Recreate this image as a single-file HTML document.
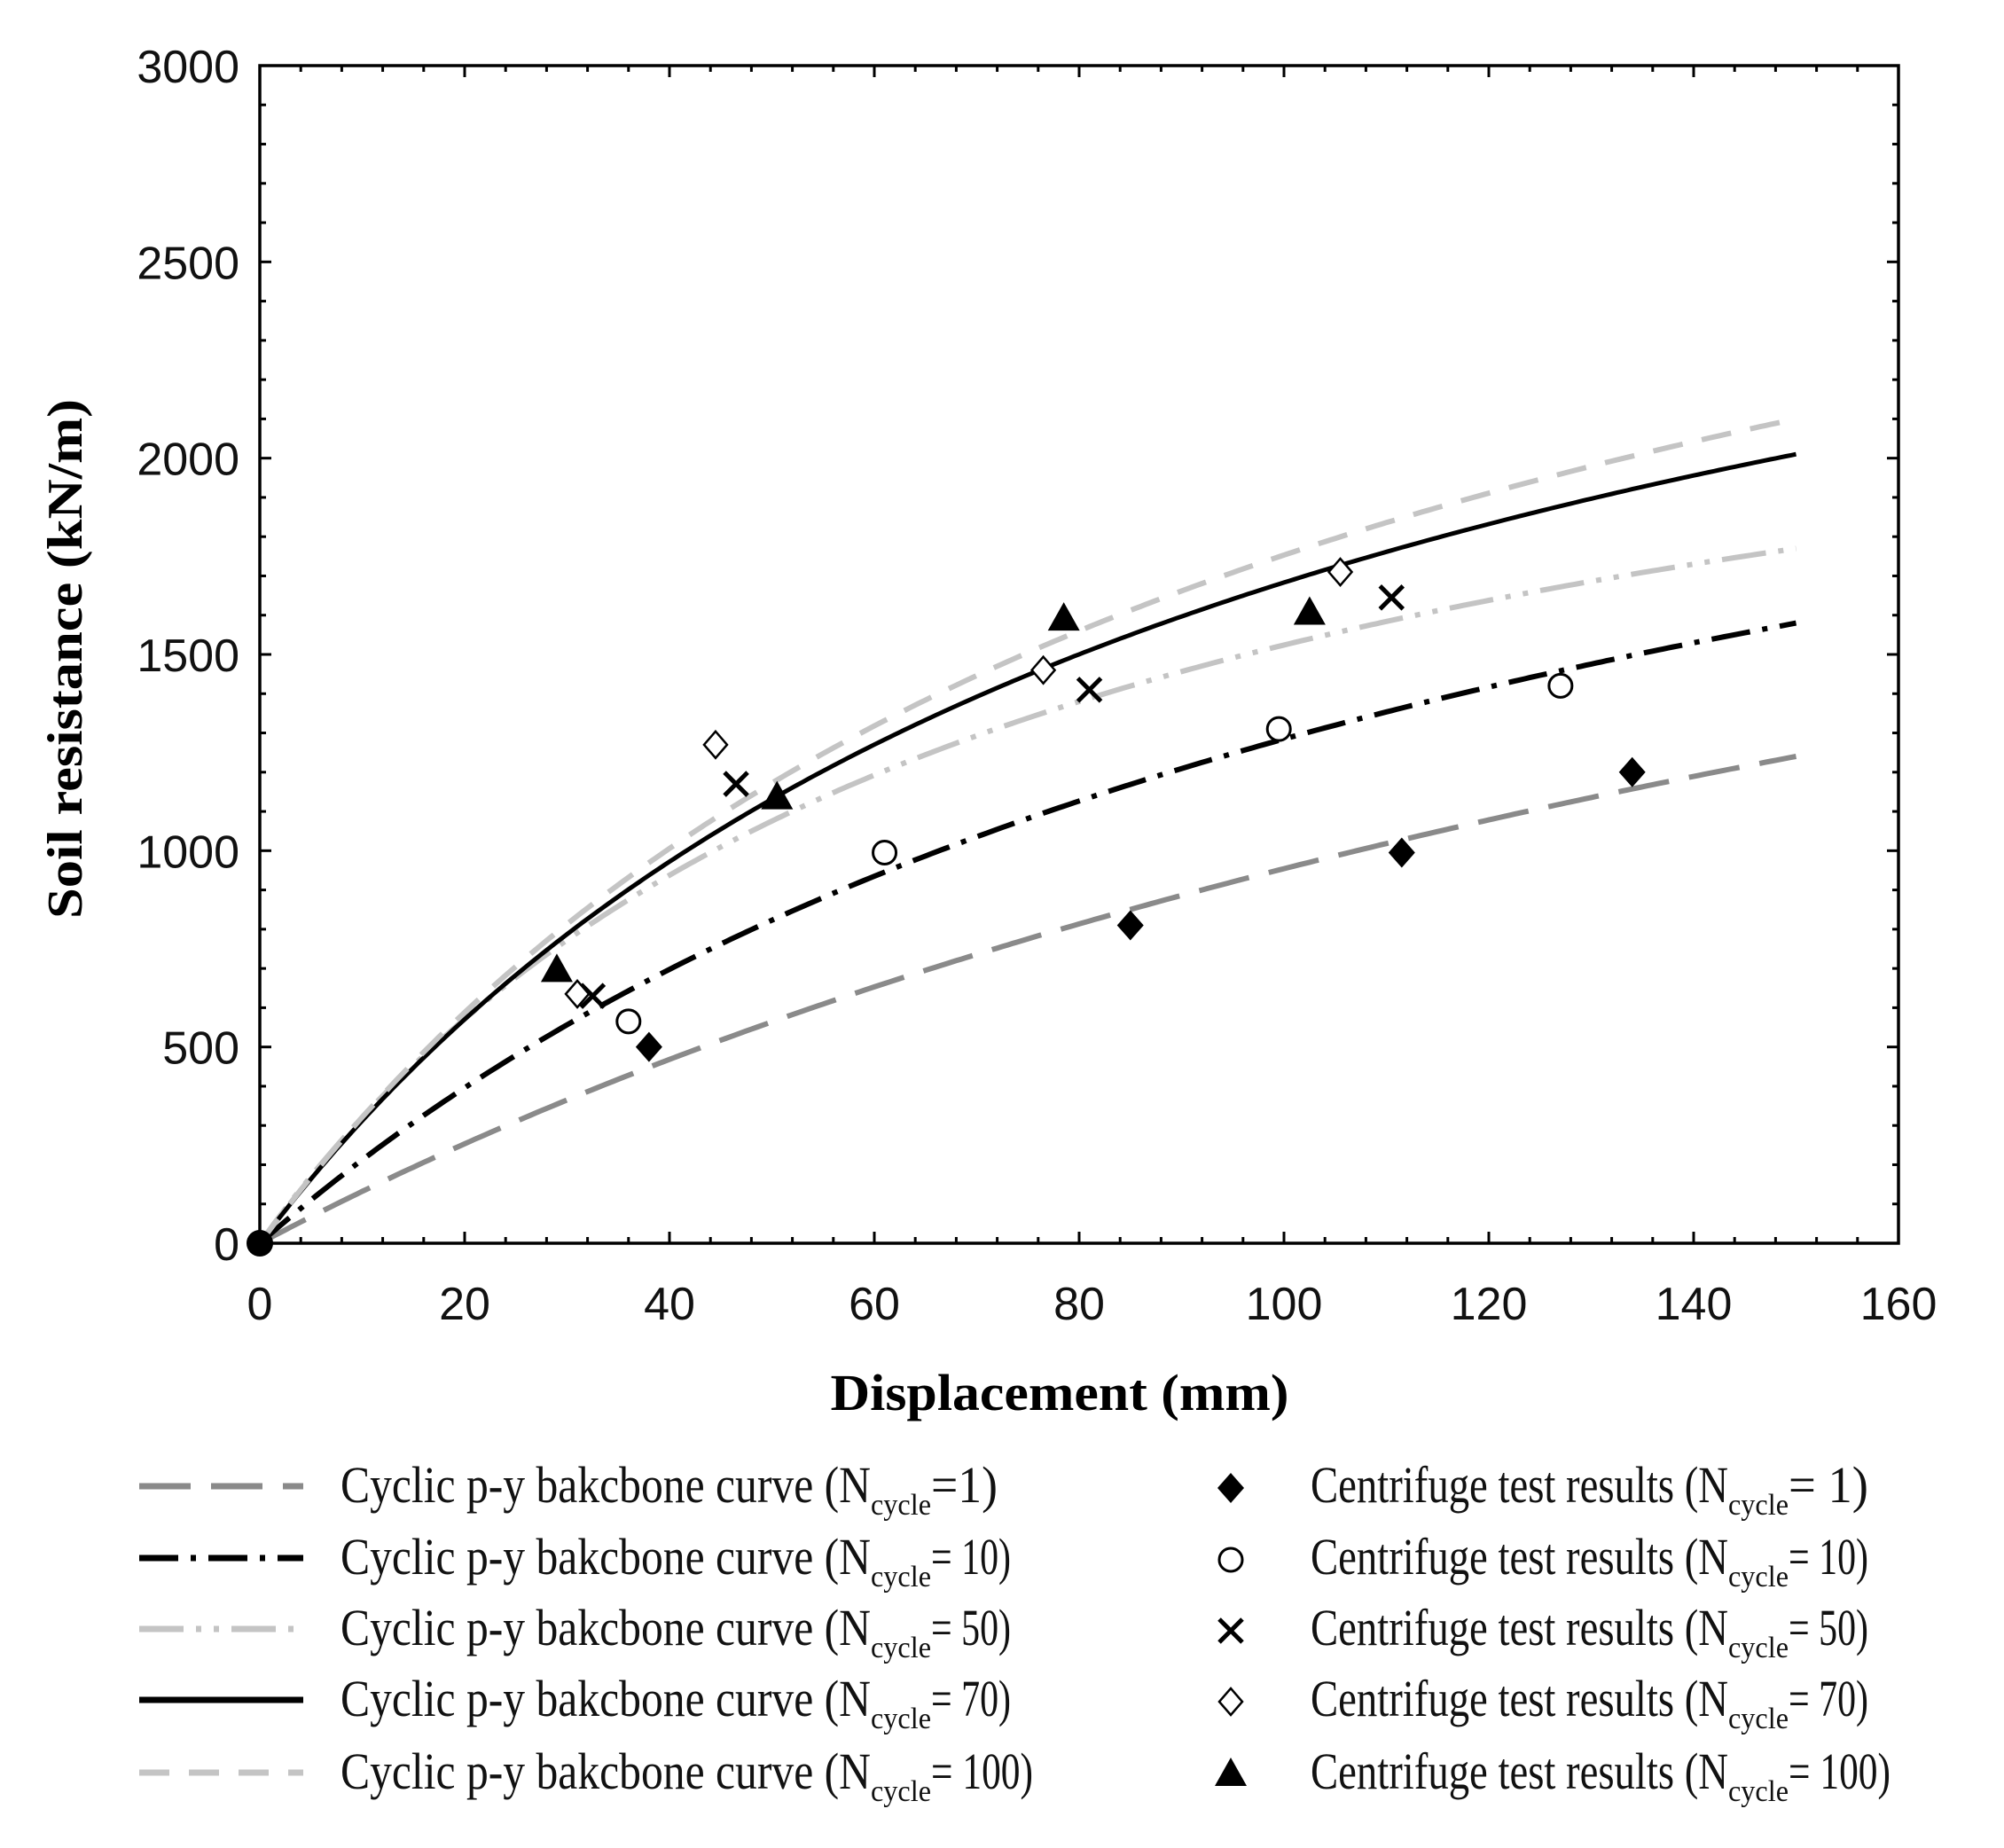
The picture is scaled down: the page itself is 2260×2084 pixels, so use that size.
<!DOCTYPE html>
<html><head><meta charset="utf-8"><style>
html,body{margin:0;padding:0;background:#fff}
svg{display:block}
</style></head><body>
<svg id="s" xmlns="http://www.w3.org/2000/svg" width="2260" height="2084" viewBox="0 0 2260 2084">
<rect width="2260" height="2084" fill="#fff"/>
<g id="ticks" stroke="#000" stroke-width="3"></g>
<g id="curves" fill="none" stroke-linecap="butt"></g>
<g id="marks"></g>
<rect x="293" y="74" width="1848" height="1328" fill="none" stroke="#000" stroke-width="3.5"/>
<g id="labels" font-family="Liberation Sans, sans-serif" font-size="52" fill="#111"></g>
<text x="1195" y="1590" font-family="Liberation Serif, serif" font-weight="bold" font-size="58" text-anchor="middle" textLength="517" lengthAdjust="spacingAndGlyphs">Displacement (mm)</text>
<text transform="translate(92,743) rotate(-90)" font-family="Liberation Serif, serif" font-weight="bold" font-size="56" text-anchor="middle" textLength="586" lengthAdjust="spacingAndGlyphs">Soil resistance (kN/m)</text>
<g id="legend" font-family="Liberation Serif, serif" font-size="58" fill="#111"></g>
</svg>
<script>
var NS="http://www.w3.org/2000/svg";
function el(t,a,p){var e=document.createElementNS(NS,t);for(var k in a)e.setAttribute(k,a[k]);p.appendChild(e);return e;}
var X0=293,XS=11.55,Y0=1402,YS=1328/3000;
function px(x){return X0+x*XS} function py(y){return Y0-y*YS}
var T=document.getElementById('ticks');
for(var i=0;i<=40;i++){var x=px(i*4),L=(i%5==0)?13:7;
 el('line',{x1:x,y1:Y0,x2:x,y2:Y0-L},T);el('line',{x1:x,y1:74,x2:x,y2:74+L},T);}
for(var i=0;i<=30;i++){var y=py(i*100),L=(i%5==0)?13:7;
 el('line',{x1:X0,y1:y,x2:X0+L,y2:y},T);el('line',{x1:2141,y1:y,x2:2141-L,y2:y},T);}
var G=document.getElementById('labels');
for(var i=0;i<=8;i++){var t=el('text',{x:px(i*20),y:1488,'text-anchor':'middle'},G);t.textContent=i*20;}
for(var i=0;i<=6;i++){var t=el('text',{x:270,y:py(i*500)+19,'text-anchor':'end'},G);t.textContent=i*500;}
var C=document.getElementById('curves');
var cs=[
 [0.0725,0.000323,'#8a8a8a',6,'58 23'],
 [0.04366,0.0003419,'#000',6,'44 14 6 14'],
 [0.02736,0.0003826,'#c4c4c4',6,'50 14 6 14 6 14'],
 [0.02898,0.0003043,'#000',5,''],
 [0.02826,0.0002878,'#c4c4c4',6,'34 22']];
cs.forEach(function(c){var d='M'+px(0)+' '+py(0);for(var x=0.5;x<=150;x+=0.5){d+=' L'+px(x).toFixed(1)+' '+py(x/(c[0]+c[1]*x)).toFixed(1);}
 var a={d:d,stroke:c[2],'stroke-width':c[3]};if(c[4])a['stroke-dasharray']=c[4];el('path',a,C);});
var M=document.getElementById('marks');
function mk(type,cx,cy){
 if(type=='fd')el('path',{d:'M'+cx+' '+(cy-17)+' L'+(cx+15)+' '+cy+' L'+cx+' '+(cy+17)+' L'+(cx-15)+' '+cy+'Z',fill:'#000'},M);
 if(type=='c')el('circle',{cx:cx,cy:cy,r:13,fill:'#fff',stroke:'#000','stroke-width':3},M);
 if(type=='x'){el('path',{d:'M'+(cx-13)+' '+(cy-13)+' L'+(cx+13)+' '+(cy+13)+' M'+(cx+13)+' '+(cy-13)+' L'+(cx-13)+' '+(cy+13),stroke:'#000','stroke-width':5,fill:'none'},M);}
 if(type=='od')el('path',{d:'M'+cx+' '+(cy-15)+' L'+(cx+13)+' '+cy+' L'+cx+' '+(cy+15)+' L'+(cx-13)+' '+cy+'Z',fill:'#fff',stroke:'#000','stroke-width':2.5},M);
 if(type=='t')el('path',{d:'M'+cx+' '+(cy-19)+' L'+(cx+18)+' '+(cy+13)+' L'+(cx-18)+' '+(cy+13)+'Z',fill:'#000'},M);
}
var data={
 fd:[[38,500],[85,810],[111.5,995],[134,1200]],
 c:[[36,565],[61,995],[99.5,1310],[127,1420]],
 x:[[32.5,630],[46.5,1170],[81,1410],[110.5,1645]],
 od:[[31,635],[44.5,1270],[76.5,1460],[105.5,1710]],
 t:[[29,695],[50.5,1135],[78.5,1590],[102.5,1605]]};
for(var k in data)data[k].forEach(function(p){mk(k,px(p[0]),py(p[1]));});
el('circle',{cx:X0,cy:Y0,r:15,fill:'#000'},M);
var Lg=document.getElementById('legend');
var rows=[1676,1757,1837,1917,1999];
var lv=['=1)','= 10)','= 50)','= 70)','= 100)'];
var rv=['= 1)','= 10)','= 50)','= 70)','= 100)'];
var lw=[75,90,90,90,115];
var mt=['fd','c','x','od','t'];
for(var i=0;i<5;i++){var y=rows[i],c=cs[i];
 var a={x1:157,y1:y,x2:342,y2:y,stroke:c[2],'stroke-width':7};if(c[4])a['stroke-dasharray']=c[4];el('line',a,Lg);
 var t=el('text',{x:384,y:y+18},Lg);
 var s1=el('tspan',{textLength:598,lengthAdjust:'spacingAndGlyphs'},t);s1.textContent='Cyclic p-y bakcbone curve (N';
 var s2=el('tspan',{'font-size':34,dy:14,textLength:68,lengthAdjust:'spacingAndGlyphs'},t);s2.textContent='cycle';
 var s3=el('tspan',{dy:-14,textLength:lw[i],lengthAdjust:'spacingAndGlyphs'},t);s3.textContent=lv[i];
 mk(mt[i],1388,y+2);
 var t2=el('text',{x:1478,y:y+18},Lg);
 var r1=el('tspan',{textLength:471,lengthAdjust:'spacingAndGlyphs'},t2);r1.textContent='Centrifuge test results (N';
 var r2=el('tspan',{'font-size':34,dy:14,textLength:68,lengthAdjust:'spacingAndGlyphs'},t2);r2.textContent='cycle';
 var r3=el('tspan',{dy:-14,textLength:lw[i]+(i==0?15:0),lengthAdjust:'spacingAndGlyphs'},t2);r3.textContent=rv[i];
}
</script>
</body></html>
